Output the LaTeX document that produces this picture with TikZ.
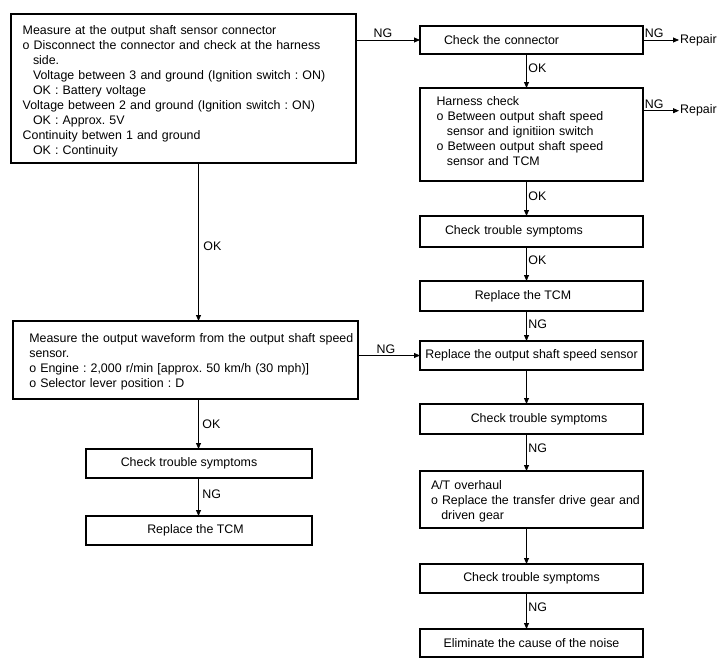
\documentclass[tikz,border=0pt]{standalone}
\usepackage{fontspec}
\setmainfont{Liberation Sans}
\usetikzlibrary{arrows.meta,calc}
\newcommand\myind{\hspace*{10.3pt}}
\newcommand\topstrut[1]{\rule{0pt}{#1}}
\newcommand\botstrut[1]{\rule[-#1]{0pt}{0pt}}
\begin{document}
\begin{tikzpicture}[x=1pt,y=-1pt,
  font=\fontsize{12.4}{15}\selectfont\frenchspacing,
  box/.style={draw, line width=1.1pt, anchor=north west, inner ysep=0pt, outer sep=0pt},
  lbox/.style={box, align=left},
  cbox/.style={box, align=center},
  arr/.style={line width=0.8pt, -{Triangle[length=6pt,width=5pt]}},
  lab/.style={inner sep=1.5pt},
]
\useasboundingbox[fill=white] (0,0) rectangle (720,669);

% boxes
\node[lbox, minimum width=345pt, minimum height=149pt, inner xsep=11.7pt, text width=321.6pt] (B1) at (11,14) {%
\topstrut{15pt}Measure at the output shaft sensor connector\\
o Disconnect the connector and check at the harness\\
\myind side.\\
\myind Voltage between 3 and ground (Ignition switch : ON)\\
\myind OK : Battery voltage\\
Voltage between 2 and ground (Ignition switch : ON)\\
\myind OK : Approx. 5V\\
Continuity betwen 1 and ground\\
\myind OK : Continuity};

\node[lbox, minimum width=223pt, minimum height=28pt, inner xsep=24pt, text width=175pt] (C1) at (420,26) {Check the connector};

\node[lbox, minimum width=223pt, minimum height=93pt, inner xsep=16.5pt, text width=190pt] (H1) at (420,88) {%
Harness check\\
o Between output shaft speed\\
\myind sensor and ignitiion switch\\
o Between output shaft speed\\
\myind sensor and TCM\botstrut{6pt}};

\node[lbox, minimum width=223pt, minimum height=31pt, inner xsep=25pt, text width=173pt] (R1) at (420,216) {Check trouble symptoms};
\node[cbox, minimum width=223pt, minimum height=30pt] (R2) at (420,281) {Replace the TCM\hspace*{17pt}};
\node[cbox, minimum width=223pt, minimum height=29pt] (R3) at (420,341) {Replace the output shaft speed sensor};
\node[cbox, minimum width=223pt, minimum height=30pt] (R4) at (420,404) {\hspace*{15pt}Check trouble symptoms};
\node[lbox, minimum width=223pt, minimum height=57pt, inner xsep=11pt, text width=201pt] (R5) at (420,471) {%
\topstrut{13pt}A/T overhaul\\
\mbox{o Replace the transfer drive gear and}\\
\myind driven gear};
\node[cbox, minimum width=223pt, minimum height=29pt] (R6) at (420,564) {Check trouble symptoms};
\node[cbox, minimum width=223pt, minimum height=28pt] (R7) at (420,629) {Eliminate the cause of the noise};

\node[lbox, minimum width=345pt, minimum height=78pt, inner xsep=16.3pt, text width=312.4pt] (L1) at (13,321) {%
\topstrut{13pt}\mbox{Measure the output waveform from the output shaft speed}\\
sensor.\\
o Engine : 2,000 r/min [approx. 50 km/h (30 mph)]\\
o Selector lever position : D};
\node[cbox, minimum width=226pt, minimum height=29pt] (L2) at (86,449) {Check trouble symptoms\hspace*{20pt}};
\node[cbox, minimum width=226pt, minimum height=29pt] (L3) at (86,516) {Replace the TCM\hspace*{7pt}};

\node[anchor=west, inner sep=1pt] (rep1) at (679,40) {Repair};
\node[anchor=west, inner sep=1pt] (rep2) at (679,110.7) {Repair};

\coordinate (rx) at (526.5,0);
\coordinate (lx) at (198.5,0);

% connectors
\draw[arr] (B1.south -| lx) -- node[lab, right, xshift=3pt, yshift=-4pt]{OK} (L1.north -| lx);
\draw[arr] (B1.east |- C1.west) -- node[lab, above, xshift=-5pt]{NG} (C1.west);
\draw[arr] (C1.east) -- node[lab, above right, pos=0]{NG} (rep1.west);
\draw[arr] (C1.south -| rx) -- node[lab, right, yshift=3pt]{OK} (H1.north -| rx);
\draw[arr] (H1.east |- rep2.west) -- node[lab, above right, pos=0]{NG} (rep2.west);
\draw[arr] (H1.south -| rx) -- node[lab, right, yshift=2pt]{OK} (R1.north -| rx);
\draw[arr] (R1.south -| rx) -- node[lab, right, yshift=4pt]{OK} (R2.north -| rx);
\draw[arr] (R2.south -| rx) -- node[lab, right, yshift=2pt]{NG} (R3.north -| rx);
\draw[arr] (L1.east |- R3.west) -- node[lab, above, xshift=-3pt]{NG} (R3.west);
\draw[arr] (R3.south -| rx) -- (R4.north -| rx);
\draw[arr] (R4.south -| rx) -- node[lab, right, yshift=4pt]{NG} (R5.north -| rx);
\draw[arr] (R5.south -| rx) -- (R6.north -| rx);
\draw[arr] (R6.south -| rx) -- node[lab, right, yshift=4pt]{NG} (R7.north -| rx);
\draw[arr] (L1.south -| lx) -- node[lab, right, xshift=2pt]{OK} (L2.north -| lx);
\draw[arr] (L2.south -| lx) -- node[lab, right, xshift=2pt, yshift=3pt]{NG} (L3.north -| lx);
\end{tikzpicture}
\end{document}
